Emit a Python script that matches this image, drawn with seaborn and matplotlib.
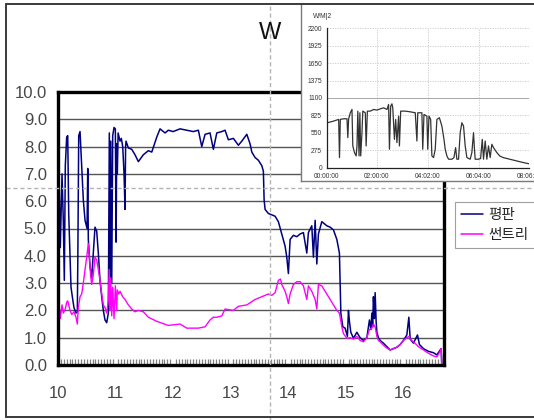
import matplotlib
matplotlib.use("Agg")
import matplotlib.pyplot as plt
import numpy as np
import pandas as pd
import seaborn as sns
from matplotlib.lines import Line2D
from matplotlib.ticker import MultipleLocator

# ---------------- data ----------------
series_names = ["평판", "썬트리"]

flat_hours = [
    10.000, 10.023, 10.040, 10.070, 10.092, 10.110, 10.127, 10.151, 10.169, 10.186,
    10.209, 10.226, 10.256, 10.278, 10.313, 10.336, 10.345, 10.360, 10.383, 10.412,
    10.440, 10.470, 10.505, 10.517, 10.527, 10.557, 10.586, 10.614, 10.643, 10.673,
    10.701, 10.730, 10.760, 10.788, 10.817, 10.847, 10.875, 10.892, 10.905, 10.917,
    10.934, 10.951, 10.974, 10.997, 11.010, 11.021, 11.031, 11.045, 11.056, 11.078,
    11.101, 11.125, 11.148, 11.165, 11.175, 11.183, 11.223, 11.282, 11.339, 11.397,
    11.483, 11.570, 11.630, 11.717, 11.774, 11.861, 11.918, 12.000, 12.122, 12.238,
    12.353, 12.440, 12.499, 12.557, 12.643, 12.701, 12.760, 12.847, 12.904, 12.962,
    13.049, 13.136, 13.195, 13.282, 13.339, 13.369, 13.426, 13.483, 13.543, 13.570,
    13.583, 13.600, 13.657, 13.716, 13.774, 13.831, 13.890, 13.948, 13.977, 14.005,
    14.035, 14.092, 14.151, 14.209, 14.266, 14.325, 14.353, 14.412, 14.440, 14.470,
    14.499, 14.527, 14.586, 14.673, 14.730, 14.788, 14.847, 14.892, 14.917, 14.951,
    14.991, 15.031, 15.049, 15.066, 15.090, 15.136, 15.195, 15.252, 15.310, 15.369,
    15.414, 15.440, 15.456, 15.470, 15.483, 15.500, 15.513, 15.530, 15.543, 15.570,
    15.600, 15.657, 15.717, 15.774, 15.831, 15.890, 15.948, 16.005, 16.064, 16.099,
    16.122, 16.179, 16.249, 16.283, 16.353, 16.440, 16.527, 16.586, 16.643, 16.660,
    16.672,
]
flat_kw = [
    2.5, 6.4, 4.3, 7.0, 5.3, 3.1, 7.3, 8.35, 8.4, 5.55,
    3.95, 2.85, 2.4, 2.1, 1.9, 1.95, 4.0, 8.4, 8.55, 7.25,
    6.05, 5.3, 5.0, 7.2, 4.6, 3.6, 3.2, 4.1, 5.05, 4.9,
    4.1, 3.1, 2.5, 2.0, 1.65, 1.55, 1.9, 8.5, 3.2, 8.2,
    3.0, 8.4, 8.7, 8.65, 4.5, 8.1, 7.0, 8.5, 8.4, 8.2,
    8.3, 8.0, 7.0, 5.7, 8.0, 8.2, 7.95, 7.9, 7.7, 7.45,
    7.7, 7.85, 7.8, 8.35, 8.65, 8.5, 8.6, 8.55, 8.65, 8.6,
    8.55, 8.6, 8.0, 8.45, 8.5, 7.9, 8.5, 8.55, 8.6, 8.25,
    8.3, 8.05, 8.2, 8.45, 8.1, 7.8, 7.6, 7.5, 7.3, 7.1,
    6.05, 5.7, 5.55, 5.5, 5.45, 5.25, 4.8, 4.35, 3.95, 3.35,
    4.6, 4.75, 4.7, 4.8, 4.85, 4.1, 4.85, 5.1, 3.95, 5.3,
    3.7, 4.8, 5.25, 5.1, 5.05, 4.95, 4.6, 4.1, 1.9, 1.4,
    1.35, 1.05, 2.0, 1.6, 1.2, 0.98, 1.2, 1.0, 0.9, 1.0,
    1.65, 1.3, 1.9, 1.4, 2.5, 1.7, 2.65, 1.6, 1.2, 1.0,
    0.9, 0.8, 0.67, 0.55, 0.6, 0.65, 0.75, 0.9, 1.1, 1.75,
    0.95, 0.8, 1.1, 0.75, 0.6, 0.5, 0.45, 0.37, 0.55, 0.6,
    0.0,
]

sun_hours = [
    10.000, 10.023, 10.040, 10.070, 10.092, 10.127, 10.151, 10.169, 10.209, 10.240,
    10.278, 10.313, 10.336, 10.353, 10.383, 10.412, 10.440, 10.470, 10.499, 10.527,
    10.540, 10.567, 10.586, 10.614, 10.643, 10.673, 10.701, 10.730, 10.760, 10.788,
    10.817, 10.847, 10.875, 10.890, 10.905, 10.917, 10.934, 10.951, 10.974, 10.997,
    11.021, 11.031, 11.056, 11.078, 11.125, 11.165, 11.223, 11.282, 11.339, 11.397,
    11.483, 11.570, 11.717, 11.918, 12.122, 12.238, 12.440, 12.557, 12.643, 12.701,
    12.760, 12.847, 12.904, 13.049, 13.136, 13.282, 13.426, 13.543, 13.657, 13.716,
    13.774, 13.831, 13.868, 13.890, 13.948, 13.977, 14.005, 14.035, 14.092, 14.151,
    14.209, 14.266, 14.325, 14.353, 14.412, 14.470, 14.499, 14.527, 14.586, 14.673,
    14.730, 14.788, 14.847, 14.892, 14.934, 14.962, 15.021, 15.078, 15.136, 15.195,
    15.252, 15.310, 15.369, 15.414, 15.456, 15.483, 15.513, 15.543, 15.570, 15.600,
    15.657, 15.717, 15.774, 15.831, 15.890, 15.948, 16.005, 16.064, 16.099, 16.122,
    16.179, 16.266, 16.353, 16.440, 16.527, 16.586, 16.643, 16.660, 16.672,
]
sun_kw = [
    1.9, 2.1, 1.7, 2.2, 1.9, 2.05, 2.3, 2.35, 2.0, 1.85,
    1.95, 1.75, 1.5, 2.1, 2.5, 2.6, 3.0, 3.5, 3.95, 4.45,
    4.1, 3.3, 2.95, 3.3, 3.95, 3.85, 3.5, 3.1, 2.6, 2.2,
    2.1, 1.9, 2.35, 3.5, 2.0, 3.2, 1.8, 2.85, 1.7, 2.9,
    2.0, 2.75, 2.6, 2.7, 2.5, 2.4, 2.2, 2.05, 1.95, 2.0,
    1.95, 1.75, 1.6, 1.45, 1.5, 1.35, 1.35, 1.4, 1.65, 1.75,
    1.75, 1.8, 2.05, 2.0, 2.15, 2.2, 2.4, 2.5, 2.6, 2.55,
    2.65, 3.1, 3.15, 2.95, 2.7, 2.5, 2.25, 2.6, 2.95, 3.05,
    3.05, 2.9, 2.4, 2.9, 2.7, 2.4, 2.05, 2.95, 2.9, 2.6,
    2.4, 2.2, 2.0, 1.9, 1.4, 1.15, 0.98, 1.0, 0.95, 1.05,
    0.9, 0.85, 1.0, 1.3, 1.35, 1.5, 1.4, 1.05, 0.9, 0.85,
    0.73, 0.62, 0.55, 0.6, 0.65, 0.75, 0.9, 1.0, 1.05, 0.95,
    0.85, 0.67, 0.55, 0.43, 0.33, 0.3, 0.5, 0.6, 0.0,
]

inset_minutes = [
    0, 1, 16, 28, 30, 32, 40, 48, 50, 52,
    56, 60, 62, 66, 70, 72, 74, 77, 79, 81,
    84, 86, 92, 94, 97, 104, 112, 120, 128, 136,
    144, 148, 150, 153, 156, 158, 162, 165, 168, 172,
    174, 177, 188, 200, 212, 216, 218, 228, 230, 233,
    240, 242, 245, 249, 252, 256, 260, 264, 270, 276,
    281, 284, 288, 292, 300, 305, 309, 312, 316, 320,
    324, 328, 332, 336, 344, 348, 352, 354, 356, 364,
    369, 373, 376, 380, 384, 388, 392, 396, 400, 408,
    415, 423, 439, 455, 471, 486,
]
inset_wm2 = [
    131, 707, 734, 760, 157, 760, 770, 770, 472, 770,
    865, 917, 341, 236, 183, 341, 891, 183, 865, 183,
    550, 891, 865, 341, 891, 891, 917, 907, 927, 943,
    917, 996, 288, 969, 1006, 943, 445, 760, 393, 812,
    341, 891, 891, 880, 865, 419, 865, 865, 288, 838,
    812, 288, 812, 760, 183, 157, 288, 760, 786, 655,
    445, 288, 183, 131, 131, 157, 314, 131, 131, 550,
    707, 655, 341, 157, 131, 236, 550, 314, 131, 131,
    141, 445, 131, 419, 131, 341, 157, 367, 314, 236,
    183, 157, 131, 105, 79, 58,
]

x_ticks = [10, 11, 12, 13, 14, 15, 16]
y_ticks = [0.0, 1.0, 2.0, 3.0, 4.0, 5.0, 6.0, 7.0, 8.0, 9.0, 10.0]
inset_yticks = [0, 275, 550, 825, 1100, 1375, 1650, 1925, 2200]
inset_xticks = [0, 120, 242, 364, 486]
inset_xlabels = ["00:00:00", "02:00:00", "04:02:00", "06:04:00", "08:06:00"]

assert len(flat_hours) == len(flat_kw)
assert len(sun_hours) == len(sun_kw)
assert len(inset_minutes) == len(inset_wm2)

df_flat = pd.DataFrame({"t": flat_hours, "v": flat_kw})
df_sun = pd.DataFrame({"t": sun_hours, "v": sun_kw})
df_in = pd.DataFrame({"m": inset_minutes, "w": inset_wm2})

# ---------------- style ----------------
sns.set_style("white")
plt.rcParams["font.family"] = ["Liberation Sans", "Noto Sans CJK KR", "DejaVu Sans"]

W, H = 534, 420
fig = plt.figure(figsize=(W / 100, H / 100), dpi=100)
fig.patch.set_facecolor("white")


def frac(x0, y0, x1, y1):
    return [x0 / W, 1 - y1 / H, (x1 - x0) / W, (y1 - y0) / H]


NAVY = "#000080"
MAGENTA = "#FF00FF"

# ---------------- main axes ----------------
ax = fig.add_axes(frac(58, 92, 444, 365))
ax.set_zorder(1)
sns.lineplot(data=df_flat, x="t", y="v", ax=ax, color=NAVY, linewidth=1.1,
             estimator=None, sort=False, label=series_names[0])
sns.lineplot(data=df_sun, x="t", y="v", ax=ax, color=MAGENTA, linewidth=1.0,
             estimator=None, sort=False, label=series_names[1])
ax.set_xlim(10, 16.71)
ax.set_ylim(0, 10)
ax.set_xlabel("")
ax.set_ylabel("")
ax.set_xticks(x_ticks)
ax.set_xticklabels([str(v) for v in x_ticks])
ax.set_yticks(y_ticks)
ax.set_yticklabels([f"{v:.1f}" for v in y_ticks])
for yv in y_ticks[1:-1]:
    ax.axhline(yv, color="#555555", lw=1.0, zorder=0.5)
ax.tick_params(axis="both", which="major", length=0, labelsize=12, colors="#474747")
ax.tick_params(axis="y", pad=8)
ax.tick_params(axis="x", pad=15)
ax.xaxis.set_minor_locator(MultipleLocator(0.05))
ax.tick_params(axis="x", which="minor", direction="in", length=4, width=0.9,
               color="#808080", bottom=True)
for s in ax.spines.values():
    s.set_color("black")
    s.set_linewidth(2.4)
ax.get_legend().remove()

# ---------------- crosshair + frame ----------------
dash = (0, (3, 2))
fig.add_artist(Line2D([270 / W, 270 / W], [0, 1 - 4 / H], transform=fig.transFigure,
                      color="#b4b4b4", lw=1.0, ls=dash, zorder=5))
fig.add_artist(Line2D([6 / W, 1], [1 - 188 / H, 1 - 188 / H], transform=fig.transFigure,
                      color="#b4b4b4", lw=1.0, ls=dash, zorder=5))
frame_kw = dict(transform=fig.transFigure, color="#3a3a3a", lw=1.4, zorder=6)
fig.add_artist(Line2D([6 / W, 6 / W], [1 - 4 / H, 1 - 417 / H], **frame_kw))
fig.add_artist(Line2D([6 / W, 1], [1 - 4 / H, 1 - 4 / H], **frame_kw))
fig.add_artist(Line2D([6 / W, 1], [1 - 417 / H, 1 - 417 / H], **frame_kw))

fig.text(270 / W, 1 - 33 / H, "W", ha="center", va="center", fontsize=17,
         color="#111111", zorder=7)

# ---------------- inset panel ----------------
panel = fig.add_axes(frac(301, 4, 540, 181))
panel.set_zorder(3)
panel.set_facecolor("white")
panel.set_xticks([])
panel.set_yticks([])
for k, s in panel.spines.items():
    s.set_color("#7a7a7a")
    s.set_linewidth(1.0)
panel.spines["top"].set_visible(False)
panel.spines["right"].set_visible(False)

axi = fig.add_axes(frac(327, 28.3, 529.3, 167.5))
axi.set_zorder(4)
axi.patch.set_alpha(0)
sns.lineplot(data=df_in, x="m", y="w", ax=axi, color="#333333", linewidth=0.9,
             estimator=None, sort=False)
axi.set_xlim(0, 486)
axi.set_ylim(0, 2200)
axi.set_xticks(inset_xticks)
axi.set_xticklabels(inset_xlabels)
axi.set_yticks(inset_yticks)
axi.set_yticklabels([str(v) for v in inset_yticks])
axi.set_xlabel("")
axi.set_ylabel("")
axi.grid(True, ls=(0, (1.5, 1.5)), color="#c8c8c8", lw=0.6)
axi.axhline(1100, color="#a8a8a8", lw=0.7, zorder=1)
axi.tick_params(axis="both", labelsize=4.8, length=2, width=0.6, pad=1.5,
                colors="#333333")
axi.tick_params(axis="x", pad=2)
for k in ("top", "right"):
    axi.spines[k].set_visible(False)
for k in ("left", "bottom"):
    axi.spines[k].set_color("#222222")
    axi.spines[k].set_linewidth(0.9)
fig.text(313 / W, 1 - 17 / H, "W/M|2", ha="left", va="center", fontsize=4.8,
         color="#333333", zorder=8)

# ---------------- legend ----------------
handles = [Line2D([], [], color=NAVY, lw=1.1), Line2D([], [], color=MAGENTA, lw=1.1)]
leg = fig.legend(handles, series_names, loc="upper left",
                 bbox_to_anchor=(455 / W, 1 - 202 / H), fontsize=10.5,
                 frameon=True, fancybox=False, handlelength=1.5, handletextpad=0.4,
                 borderpad=0.4, labelspacing=0.45, borderaxespad=0)
leg.get_frame().set_edgecolor("#888888")
leg.get_frame().set_linewidth(0.8)
leg.set_zorder(9)

fig.savefig("out.png", dpi=100, facecolor="white")
